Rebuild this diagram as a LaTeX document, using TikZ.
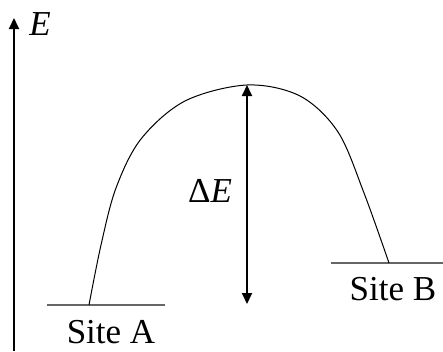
\documentclass[tikz,border=0pt]{standalone}
\usepackage{fontspec}
\setmainfont{Liberation Serif}
\usetikzlibrary{arrows.meta}
\begin{document}
\begin{tikzpicture}[x=1pt,y=-1pt,
  lbl/.style={font=\fontsize{35}{40}\selectfont, inner sep=0pt, anchor=base},
  axis/.style={line width=2pt, -{Triangle[width=10pt,length=11pt]}},
  gap/.style={line width=2pt, {Triangle[width=10pt,length=11pt]}-{Triangle[width=10pt,length=11pt]}},
  level/.style={line width=1.3pt, draw=black!60},
  curve/.style={line width=1pt}]
\useasboundingbox (0,0) rectangle (443,351);
% axis
\coordinate (axb) at (14,351);
\coordinate (axt) at (14,18);
\draw[axis] (axb) -- (axt);
\node[lbl] (E) at (40,35) {\textit{E}};
% levels
\coordinate (a1) at (47,305);
\coordinate (a2) at (165,305);
\coordinate (b1) at (331,263);
\coordinate (b2) at (443,263);
\draw[level] (a1) -- (a2);
\draw[level] (b1) -- (b2);
\node[lbl] (sa) at (111,343) {Site A};
\node[lbl] (sb) at (393,300) {Site B};
% curve
\coordinate (peak) at (247,85);
\coordinate (base) at (247,304);
\draw[curve] plot[smooth, tension=0.55] coordinates {(89,305) (101,245) (116,188) (141,139) (185,101) (247,85) (300,96) (338,132) (364,193) (389,263)};
% delta E
\draw[gap] (base) -- (peak);
\node[lbl] (dE) at (210,202) {Δ\textit{E}};
\end{tikzpicture}
\end{document}
